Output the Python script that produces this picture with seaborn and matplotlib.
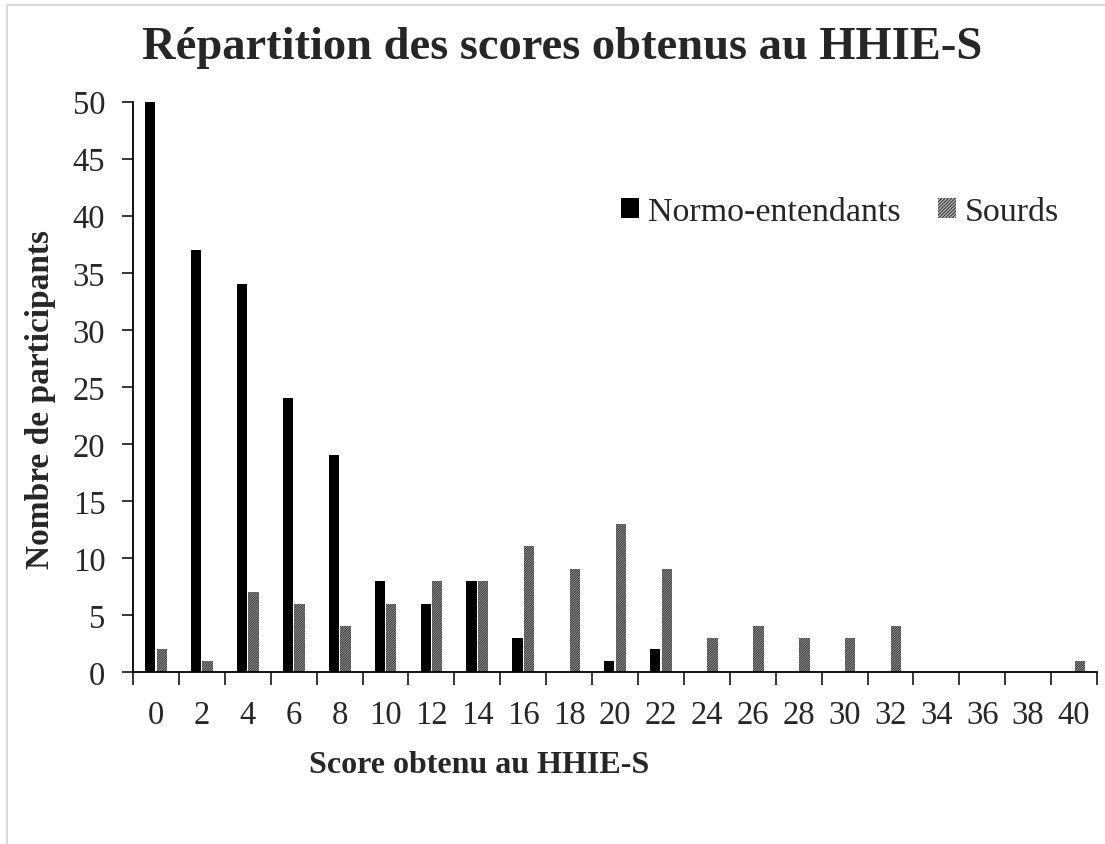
import numpy as np
import pandas as pd
import matplotlib
matplotlib.use("Agg")
import matplotlib.pyplot as plt
import seaborn as sns
from matplotlib.patches import Patch
from matplotlib.lines import Line2D

# Data
scores = list(range(0, 41, 2))
normo = [50, 37, 34, 24, 19, 8, 6, 8, 3, 0, 1, 2, 0, 0, 0, 0, 0, 0, 0, 0, 0]
sourds = [2, 1, 7, 6, 4, 6, 8, 8, 11, 9, 13, 9, 3, 4, 3, 3, 4, 0, 0, 0, 1]
groups = ["Normo-entendants", "Sourds"]

score_labels = [str(s) for s in scores]
df = pd.DataFrame({
    "score": score_labels * 2,
    "groupe": [groups[0]] * len(scores) + [groups[1]] * len(scores),
    "n": normo + sourds,
})

sns.set_style("ticks")
plt.rcParams["font.family"] = ["Liberation Serif", "DejaVu Serif"]
plt.rcParams["hatch.linewidth"] = 0.8

gray = "#b8b8b8"
hatch_col = "#3a3a3a"

fig = plt.figure(figsize=(11.05, 8.45), dpi=100)
ax = fig.add_axes([0.1204, 0.2036, 0.8724, 0.6749])

sns.barplot(data=df, x="score", y="n", hue="groupe", order=score_labels,
            hue_order=groups, palette={groups[0]: "black", groups[1]: gray},
            width=0.5, gap=0.1, saturation=1, legend=False, ax=ax)

for bar in ax.containers[1]:
    bar.set_hatch("/" * 14)
    bar.set_edgecolor(hatch_col)
    bar.set_linewidth(0)
for bar in ax.containers[0]:
    bar.set_linewidth(0)

ax.set_xlim(-0.5, len(scores) - 0.5)
ax.set_ylim(0, 50)
ax.set_yticks(range(0, 51, 5))
ax.set_xticks(range(len(scores)))
ax.set_xticklabels(score_labels)
# tick marks between the categories, labels on the categories
ax.set_xticks(np.arange(-0.5, len(scores), 1), minor=True)
ax.tick_params(axis="x", which="major", length=0, pad=20, labelsize=23.5)
ax.tick_params(axis="x", which="minor", length=9, width=1.3, direction="out")
ax.tick_params(axis="y", length=8, width=1.3, direction="out", pad=12, labelsize=23.5)

sns.despine(ax=ax)
for side in ["left", "bottom"]:
    ax.spines[side].set_linewidth(1.3)
    ax.spines[side].set_color("black")

ax.set_xlabel("")
ax.set_ylabel("")
fig.text(0.037, 0.527, "Nombre de participants", rotation=90, ha="center",
         va="center", fontsize=24, fontweight="bold")
fig.text(0.28, 0.094, "Score obtenu au HHIE-S", ha="left", va="center",
         fontsize=23, fontweight="bold")
fig.text(0.509, 0.943, "Répartition des scores obtenus au HHIE-S", ha="center",
         va="center", fontsize=33.5, fontweight="bold")

handles = [Patch(facecolor="black", linewidth=0),
           Patch(facecolor=gray, hatch="/" * 10, edgecolor=hatch_col, linewidth=0)]
ax.legend(handles, groups, ncol=2, frameon=False, fontsize=24.5,
          loc="center right", bbox_to_anchor=(0.974, 0.748),
          bbox_transform=fig.transFigure, handlelength=0.55, handleheight=0.55,
          handletextpad=0.25, columnspacing=1.1, borderpad=0)

# thin frame of the original picture (top and left edges)
fig.add_artist(Line2D([0.0065, 0.0065], [0, 0.993], color="#d9d9d9", lw=1.5))
fig.add_artist(Line2D([0.0065, 1], [0.993, 0.993], color="#d9d9d9", lw=1.5))

fig.savefig("out.png", dpi=100, facecolor="white")
